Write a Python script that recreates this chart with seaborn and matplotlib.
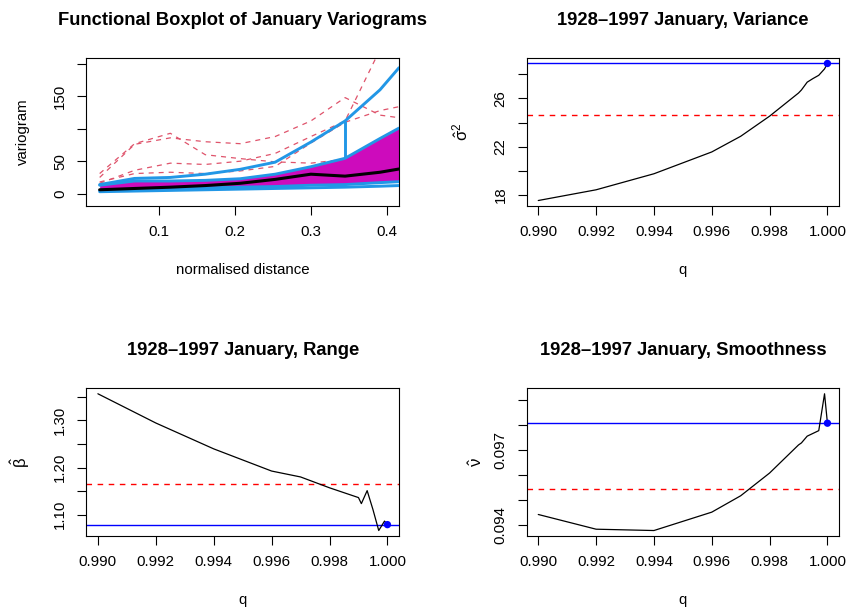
import matplotlib
matplotlib.use("Agg")
import matplotlib.pyplot as plt
import seaborn as sns

# ---- Functional boxplot of January variograms ----
dist = [0.022, 0.068, 0.115, 0.161, 0.207, 0.253, 0.300, 0.345, 0.391, 0.416]
upper_env = [14, 23.5, 25, 30, 37.5, 48.5, 79.5, 112, 160, 194]
band_hi = [13, 19.5, 19.5, 20.5, 23, 30, 41.5, 54.5, 85, 101]
median_curve = [6, 8, 10, 12.5, 16, 22, 30, 27, 33, 38]
band_lo = [5, 7, 8, 9, 10, 11, 13, 14, 17, 18.5]
lower_env = [3, 4, 5, 6, 7, 8, 9, 10, 11.5, 12.5]
outlier_a = [25, 76, 86, 80, 77, 88, 112, 148, 121, 117]
outlier_b = [31, 77, 93, 60, 54, 49, 47, 53, 75, 90]
outlier_c = [16, 36, 47, 45, 50, 62, 88, 112, 222, 280]
outlier_d = [18, 31, 33, 31, 35, 42, 78, 110, 128, 134]
whisker_idx = 7

# ---- Parameter estimates against threshold q ----
q = [0.990, 0.992, 0.994, 0.996, 0.997, 0.998, 0.999, 0.9991, 0.9993,
     0.9995, 0.9997, 0.9999, 1.000]
variance = [17.53, 18.42, 19.75, 21.56, 22.86, 24.53, 26.45, 26.70, 27.35,
            27.65, 27.92, 28.45, 28.90]
range_beta = [1.3562, 1.2943, 1.2395, 1.1925, 1.1800, 1.1570, 1.1363, 1.1235,
              1.1510, 1.1110, 1.0665, 1.0865, 1.0790]
smoothness = [0.094427, 0.093840, 0.093787, 0.094520, 0.095173, 0.096080,
              0.097200, 0.097280, 0.097550, 0.097660, 0.097770, 0.099240,
              0.098067]
ref_variance = 24.61
ref_range = 1.1648
ref_smooth = 0.095453

MAGENTA = "#CD0BBC"
BLUE = "#2297E6"
RED = "#DF536B"

sns.set_theme(style="ticks")
plt.rcParams["font.family"] = ["Liberation Sans", "DejaVu Sans"]
plt.rcParams["mathtext.fontset"] = "dejavusans"
plt.rcParams["mathtext.default"] = "regular"
plt.rcParams["text.color"] = "black"
plt.rcParams["axes.labelcolor"] = "black"
plt.rcParams["xtick.color"] = "black"
plt.rcParams["ytick.color"] = "black"

fig = plt.figure(figsize=(8.48, 6.08), dpi=100)
W, H = 848.0, 608.0


def make_axes(x0, y0, x1, y1):
    return fig.add_axes([x0 / W, 1 - y1 / H, (x1 - x0) / W, (y1 - y0) / H])


ax1 = make_axes(86, 58, 399, 206)
ax2 = make_axes(526.7, 58, 839, 206)
ax3 = make_axes(86.3, 388.3, 399, 536)
ax4 = make_axes(526.7, 388.3, 839, 536)

TICK_FS = 10.8
LABEL_FS = 10.8
TITLE_FS = 13.2


def style_axes(ax, title, xlabel, ylabel, ylab_x, ylab_fs=LABEL_FS):
    for s in ax.spines.values():
        s.set_visible(True)
        s.set_color("black")
        s.set_linewidth(0.8)
    ax.tick_params(direction="out", length=6.5, width=0.8, pad=7.2,
                   labelsize=TICK_FS, colors="black")
    ax.tick_params(axis="y", labelrotation=90)
    for lab in ax.get_yticklabels():
        lab.set_va("center")
    ax.set_title(title, fontsize=TITLE_FS, fontweight="bold", pad=24,
                 color="black")
    ax.set_xlabel(xlabel, fontsize=LABEL_FS)
    ax.set_ylabel(ylabel, fontsize=ylab_fs)
    ax.xaxis.label.set_va("center")
    ax.yaxis.label.set_va("center")
    ax.xaxis.set_label_coords(0.5, -0.432)
    ax.yaxis.set_label_coords(ylab_x, 0.5)
    ax.grid(False)


def r_limits(vals):
    lo, hi = min(vals), max(vals)
    pad = 0.04 * (hi - lo)
    return lo - pad, hi + pad


# Panel 1: functional boxplot
for curve in (outlier_a, outlier_b, outlier_c, outlier_d):
    sns.lineplot(x=dist, y=curve, ax=ax1, color=RED, lw=0.9,
                 linestyle=(0, (4, 4)), sort=False, estimator=None, zorder=1)
ax1.fill_between(dist, band_lo, band_hi, color=MAGENTA, lw=0, zorder=2)
for curve in (band_hi, band_lo, upper_env, lower_env):
    sns.lineplot(x=dist, y=curve, ax=ax1, color=BLUE, lw=2.1,
                 sort=False, estimator=None, zorder=3)
xw = dist[whisker_idx]
ax1.vlines([xw, xw], [band_hi[whisker_idx], lower_env[whisker_idx]],
           [upper_env[whisker_idx], band_lo[whisker_idx]],
           color=BLUE, lw=2.1, zorder=3)
sns.lineplot(x=dist, y=median_curve, ax=ax1, color="black", lw=2.2,
             sort=False, estimator=None, zorder=4)
ax1.set_xlim(0.004, 0.416)
ax1.set_ylim(-19, 209)
ax1.set_xticks([0.1, 0.2, 0.3, 0.4])
ax1.set_xticklabels(["0.1", "0.2", "0.3", "0.4"])
ax1.set_yticks([0, 50, 100, 150, 200])
ax1.set_yticklabels(["0", "50", "", "150", ""])
style_axes(ax1, "Functional Boxplot of January Variograms",
           "normalised distance", "variogram", -0.201)

q_ticks = [0.990, 0.992, 0.994, 0.996, 0.998, 1.000]
q_labels = ["0.990", "0.992", "0.994", "0.996", "0.998", "1.000"]


def threshold_panel(ax, vals, ref, title, ylabel, yticks, ylabels, ylab_x):
    ax.axhline(ref, color="red", lw=1.0, linestyle=(0, (4, 4)), zorder=1)
    ax.axhline(vals[-1], color="blue", lw=1.0, zorder=2)
    sns.lineplot(x=q, y=vals, ax=ax, color="black", lw=0.9,
                 sort=False, estimator=None, zorder=3)
    sns.scatterplot(x=[q[-1]], y=[vals[-1]], ax=ax, color="blue", s=28,
                    edgecolor="none", zorder=4)
    ax.set_xlim(*r_limits(q))
    ax.set_ylim(*r_limits(vals))
    ax.set_xticks(q_ticks)
    ax.set_xticklabels(q_labels)
    ax.set_yticks(yticks)
    ax.set_yticklabels(ylabels)
    style_axes(ax, title, "q", ylabel, ylab_x, ylab_fs=12)


threshold_panel(ax2, variance, ref_variance, "1928\u20131997 January, Variance",
                r"$\hat{\sigma}^2$", [18, 20, 22, 24, 26, 28],
                ["18", "", "22", "", "26", ""], -0.212)
threshold_panel(ax3, range_beta, ref_range, "1928\u20131997 January, Range",
                r"$\hat{\beta}$", [1.10, 1.15, 1.20, 1.25, 1.30, 1.35],
                ["1.10", "", "1.20", "", "1.30", ""], -0.212)
threshold_panel(ax4, smoothness, ref_smooth, "1928\u20131997 January, Smoothness",
                r"$\hat{\nu}$", [0.094, 0.095, 0.096, 0.097, 0.098, 0.099],
                ["0.094", "", "", "0.097", "", ""], -0.161)

fig.savefig("out.png", dpi=100)
